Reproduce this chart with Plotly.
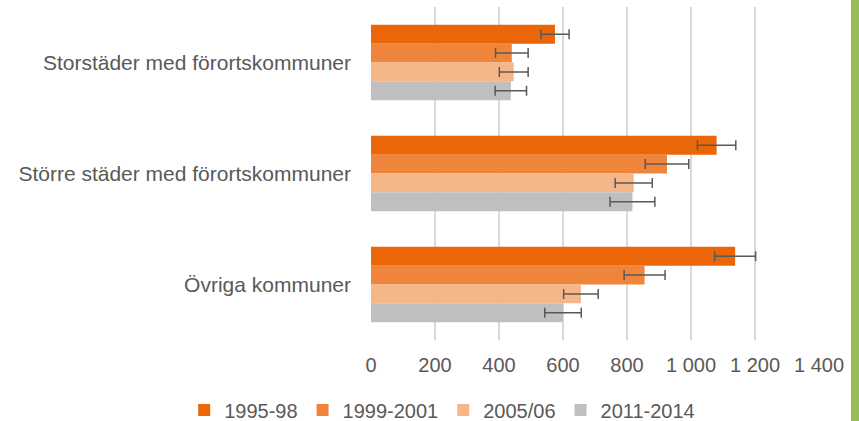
import plotly.graph_objects as go

GRAA_TEXT = "#595959"
GRID = "#D9D9D9"
GRON = "#9BBB59"

kategorier = [
    "Storstäder med förortskommuner",
    "Större städer med förortskommuner",
    "Övriga kommuner",
]

serier = ["1995-98", "1999-2001", "2005/06", "2011-2014"]
farger = ["#EB6608", "#EF853A", "#F5B78A", "#BFBFBF"]

v_1995 = [575, 1080, 1138]
v_1999 = [440, 925, 855]
v_2005 = [446, 821, 656]
v_2011 = [437, 817, 600]

fel_1995 = [44, 60, 64]
fel_1999 = [51, 68, 64]
fel_2005 = [45, 58, 54]
fel_2011 = [49, 70, 57]

x_tickvals = [0, 200, 400, 600, 800, 1000, 1200, 1400]
x_ticktext = ["0", "200", "400", "600", "800", "1 000", "1 200", "1 400"]

varden = [v_1995, v_1999, v_2005, v_2011]
fel = [fel_1995, fel_1999, fel_2005, fel_2011]

fig = go.Figure()
for namn, farg, v, e in zip(serier, farger, varden, fel):
    fig.add_trace(go.Bar(
        x=v,
        y=kategorier,
        orientation="h",
        name=namn,
        marker=dict(color=farg, line=dict(width=0)),
        error_x=dict(type="data", array=e, visible=True,
                     color=GRAA_TEXT, thickness=1.5, width=5),
    ))

fig.update_layout(
    barmode="group",
    bargap=0.32,
    bargroupgap=0,
    paper_bgcolor="white",
    plot_bgcolor="white",
    font=dict(family="Liberation Sans, Arial, sans-serif", color=GRAA_TEXT, size=20),
    width=859,
    height=421,
    margin=dict(l=371, r=40, t=7, b=81, autoexpand=False),
    xaxis=dict(
        range=[0, 1400],
        tickvals=x_tickvals,
        ticktext=x_ticktext,
        showgrid=True,
        gridcolor=GRID,
        gridwidth=1.5,
        zeroline=False,
        showline=False,
        ticks="",
        automargin=False,
        ticklabelstandoff=11,
        tickfont=dict(size=20, color=GRAA_TEXT),
    ),
    yaxis=dict(
        autorange="reversed",
        showgrid=False,
        showline=False,
        ticks="",
        automargin=False,
        ticklabelstandoff=19,
        tickfont=dict(size=21, color=GRAA_TEXT),
    ),
    legend=dict(
        orientation="h",
        x=-0.417,
        xanchor="left",
        y=-0.21,
        yanchor="middle",
        bgcolor="rgba(0,0,0,0)",
        font=dict(size=20, color=GRAA_TEXT),
        itemwidth=30,
        traceorder="normal",
    ),
    showlegend=True,
)

# grön kantlist till höger
fig.add_shape(
    type="rect",
    xref="paper", yref="paper",
    x0=1.0714, x1=1.1,
    y0=-0.3, y1=1.05,
    fillcolor=GRON,
    line=dict(width=0),
    layer="above",
)

fig.write_html(
    "out.html",
    config={"displayModeBar": False},
    post_script="document.body.style.margin='0';",
)
